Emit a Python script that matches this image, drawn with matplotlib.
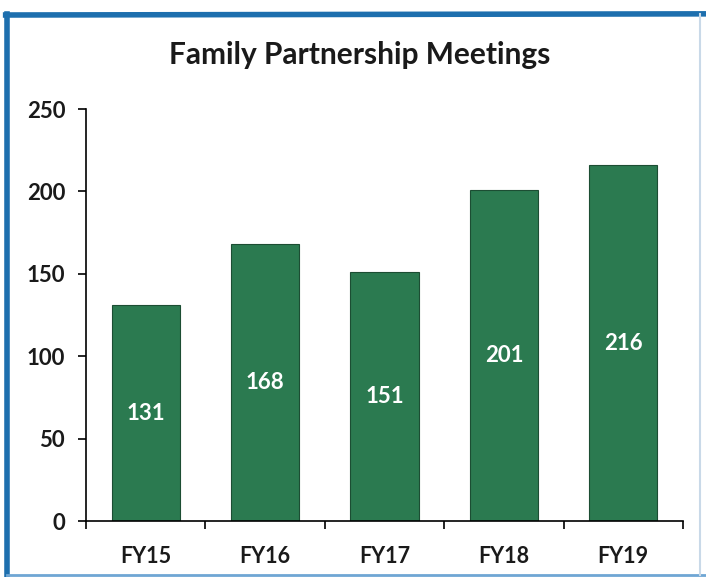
import matplotlib.pyplot as plt
from matplotlib.lines import Line2D

categories = ["FY15", "FY16", "FY17", "FY18", "FY19"]
meetings = [131, 168, 151, 201, 216]

BAR_COLOR = "#2b7a50"
BORDER_COLOR = "#1d6fae"

plt.rcParams["font.family"] = ["Lato", "DejaVu Sans"]

fig = plt.figure(figsize=(7.06, 5.77), dpi=100)
ax = fig.add_axes((0.1218, 0.097, 0.8456, 0.714))

x = list(range(len(categories)))
bars = ax.bar(x, meetings, width=0.57, color=BAR_COLOR,
              edgecolor="#1c4d33", linewidth=0.8)
for rect, val in zip(bars, meetings):
    ax.text(rect.get_x() + rect.get_width() / 2, val / 2, str(val),
            ha="center", va="center", color="white",
            fontsize=16, fontweight="bold")

ax.set_xlim(-0.5, len(categories) - 0.5)
ax.set_ylim(0, 250)
ax.set_yticks(range(0, 251, 50))
ax.set_xticks(x)
ax.set_xticklabels(categories, fontsize=15.5, fontweight="bold", color="#1a1a1a")
ax.set_xticks([i - 0.5 for i in range(len(categories) + 1)], minor=True)
ax.tick_params(axis="x", which="major", length=0, pad=18)
ax.tick_params(axis="x", which="minor", length=6, width=1.2, direction="out")
ax.tick_params(axis="y", length=6, width=1.2, labelsize=16, pad=9,
               labelcolor="#1a1a1a")
for lab in ax.get_yticklabels():
    lab.set_fontweight("bold")
for side in ("top", "right"):
    ax.spines[side].set_visible(False)
for side in ("left", "bottom"):
    ax.spines[side].set_linewidth(1.2)

fig.text(0.51, 0.905, "Family Partnership Meetings", ha="center",
         va="center", fontsize=21.5, fontweight="bold", color="#1a1a1a")

# scanned-page frame
fig.add_artist(Line2D([0.010, 0.010], [0.003, 0.975], color=BORDER_COLOR,
                      linewidth=4, transform=fig.transFigure))
fig.add_artist(Line2D([0.008, 1.0], [0.974, 0.976], color=BORDER_COLOR,
                      linewidth=4, transform=fig.transFigure))
fig.add_artist(Line2D([0.010, 1.0], [0.004, 0.004], color="#6fa6d4",
                      linewidth=2, transform=fig.transFigure))
fig.add_artist(Line2D([0.992, 0.992], [0.004, 0.975], color="#c9d9e8",
                      linewidth=1.5, transform=fig.transFigure))

fig.savefig("out.png", dpi=100)
